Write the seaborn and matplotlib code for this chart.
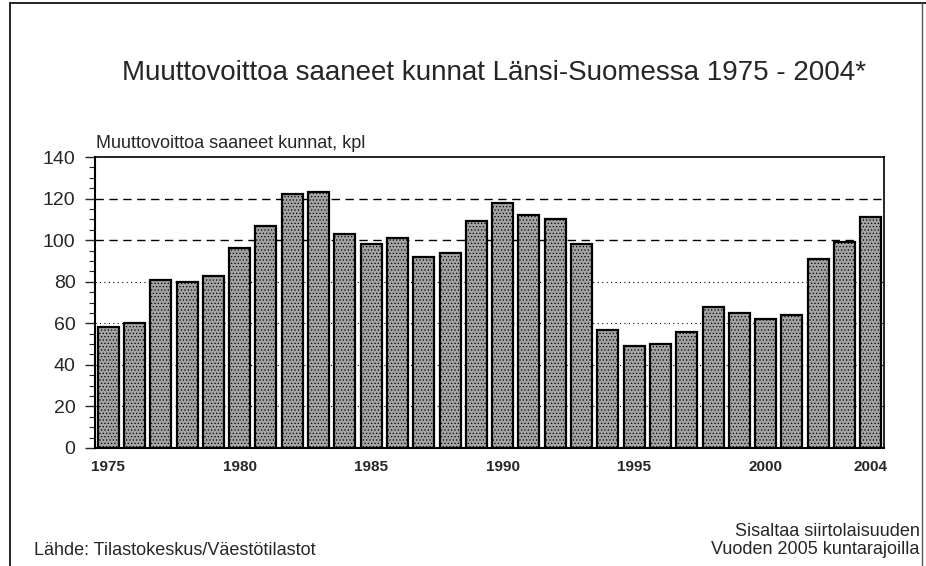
import matplotlib
matplotlib.use("Agg")
import matplotlib.pyplot as plt
import seaborn as sns
import pandas as pd
from matplotlib.lines import Line2D

# values
years = list(range(1975, 2005))
kunnat = [58, 60, 81, 80, 83, 96, 107, 122, 123, 103,
          98, 101, 92, 94, 109, 118, 112, 110, 98, 57,
          49, 50, 56, 68, 65, 62, 64, 91, 99, 111]
tick_years = [1975, 1980, 1985, 1990, 1995, 2000, 2004]
yticks = [0, 20, 40, 60, 80, 100, 120, 140]

df = pd.DataFrame({"vuosi": years, "kunnat": kunnat})

sns.set_style("white")
plt.rcParams["font.family"] = ["Liberation Sans", "DejaVu Sans"]
plt.rcParams["hatch.color"] = "#555555"
plt.rcParams["hatch.linewidth"] = 0.5

fig = plt.figure(figsize=(9.26, 5.66), dpi=100)
ax = fig.add_axes([0.1026, 0.2085, 0.852, 0.514])

# grid first so bars sit on top
for v in [20, 40, 60, 80]:
    ax.axhline(v, color="black", lw=0.8, ls=(0, (1, 3)), zorder=0)
for v in [100, 120]:
    ax.axhline(v, color="black", lw=1.0, ls=(0, (6, 4)), zorder=0)

sns.barplot(data=df, x="vuosi", y="kunnat", color="#a3a3a3", width=0.8,
            edgecolor="black", linewidth=1.6, saturation=1, ax=ax, zorder=2)
for p in ax.patches:
    p.set_hatch(".....")

ax.set_xlim(-0.5, len(years) - 0.5)
ax.set_ylim(0, 140)
ax.set_yticks(yticks)
ax.set_yticks(range(0, 141, 5), minor=True)
ax.set_yticklabels([str(t) for t in yticks], fontsize=14)
ax.set_xticks([years.index(y) for y in tick_years])
ax.set_xticklabels([str(y) for y in tick_years], fontsize=11, fontweight="bold")
ax.tick_params(axis="y", which="major", direction="out", length=7, width=1, left=True, pad=7)
ax.tick_params(axis="y", which="minor", direction="out", length=4, width=0.8, left=True)
ax.tick_params(axis="x", length=0, pad=9)
ax.set_xlabel("")
ax.set_ylabel("")

for s in ["left", "bottom", "top", "right"]:
    ax.spines[s].set_visible(True)
    ax.spines[s].set_color("black")
ax.spines["left"].set_linewidth(1.5)
ax.spines["bottom"].set_linewidth(1.5)
ax.spines["top"].set_linewidth(1.2)
ax.spines["right"].set_linewidth(1.2)

fig.text(0.534, 0.871, "Muuttovoittoa saaneet kunnat Länsi-Suomessa 1975 - 2004*",
         ha="center", va="center", fontsize=20)
fig.text(0.104, 0.746, "Muuttovoittoa saaneet kunnat, kpl", ha="left", va="center", fontsize=13)
fig.text(0.037, 0.027, "Lähde: Tilastokeskus/Väestötilastot", ha="left", va="center", fontsize=13)
fig.text(0.993, 0.061, "Sisaltaa siirtolaisuuden", ha="right", va="center", fontsize=13)
fig.text(0.993, 0.030, "Vuoden 2005 kuntarajoilla", ha="right", va="center", fontsize=13)

# outer frame of the picture
fig.add_artist(Line2D([0.011, 0.011], [0.0, 0.994], color="black", lw=1.2))
fig.add_artist(Line2D([0.011, 1.0], [0.994, 0.994], color="black", lw=1.2))
fig.add_artist(Line2D([0.996, 0.996], [0.0, 0.994], color="#555555", lw=1.0))

fig.savefig("out.png", dpi=100)
